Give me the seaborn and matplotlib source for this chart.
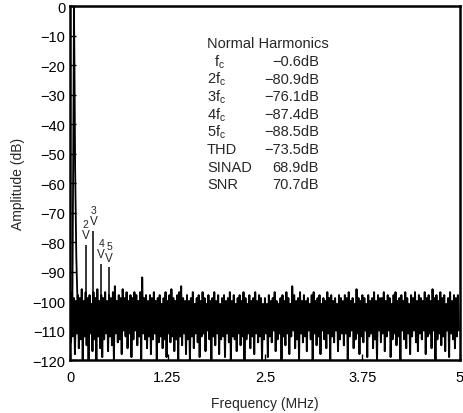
import matplotlib
matplotlib.use('Agg')
import matplotlib.pyplot as plt
import numpy as np
import seaborn as sns

# FFT spectrum of the converter output, 0-5 MHz
bin_step = 0.025  # MHz per noise bin

# upper edge of the noise floor, one value per bin (rows of 0.5 MHz)
noise_hi = [
    -98, -97, -99, -100, -98, -99, -96, -100, -97, -99, -98, -101, -97, -99, -96, -100, -98, -99, -97, -100,
    -98, -99, -97, -95, -100, -98, -99, -96, -99, -97, -100, -98, -99, -97, -98, -100, -97, -92, -99, -98,
    -100, -98, -99, -97, -100, -99, -98, -101, -99, -97, -100, -98, -96, -99, -100, -98, -97, -95, -99, -100,
    -98, -100, -99, -97, -101, -99, -98, -100, -97, -99, -101, -98, -100, -99, -97, -100, -98, -101, -99, -98,
    -100, -99, -97, -100, -98, -101, -99, -98, -100, -97, -99, -101, -98, -100, -99, -97, -100, -98, -99, -101,
    -99, -101, -98, -100, -99, -97, -100, -101, -99, -98, -100, -97, -99, -101, -95, -98, -100, -99, -97, -100,
    -98, -100, -99, -101, -98, -97, -100, -99, -98, -101, -99, -100, -97, -99, -98, -100, -99, -101, -98, -99,
    -100, -98, -99, -97, -100, -99, -101, -96, -99, -100, -98, -99, -101, -98, -100, -99, -97, -100, -98, -99,
    -99, -97, -100, -98, -99, -101, -98, -97, -100, -99, -98, -100, -97, -99, -101, -98, -99, -97, -100, -98,
    -99, -100, -97, -99, -98, -100, -96, -99, -98, -100, -97, -99, -98, -101, -99, -97, -100, -98, -99, -98,
]

# lower edge of the noise floor
noise_lo = [
    -114, -112, -118, -111, -116, -113, -120, -112, -115, -120, -111, -117, -113, -120, -112, -116, -119, -113, -111, -117,
    -112, -115, -120, -111, -114, -113, -118, -110, -112, -116, -111, -119, -113, -110, -115, -112, -120, -111, -113, -116,
    -112, -118, -113, -111, -120, -114, -112, -116, -113, -119, -111, -114, -112, -117, -113, -120, -112, -115, -111, -118,
    -113, -120, -112, -116, -111, -114, -119, -112, -111, -117, -110, -113, -120, -112, -115, -111, -118, -113, -112, -119,
    -111, -114, -120, -112, -113, -117, -111, -115, -112, -120, -113, -111, -116, -112, -118, -111, -114, -112, -120, -113,
    -111, -119, -112, -114, -110, -117, -113, -111, -120, -112, -115, -111, -118, -112, -110, -116, -113, -120, -111, -114,
    -112, -117, -110, -113, -120, -111, -115, -112, -118, -110, -113, -116, -111, -120, -112, -114, -110, -117, -113, -111,
    -115, -111, -120, -112, -110, -116, -113, -111, -118, -112, -114, -110, -119, -112, -111, -116, -113, -120, -110, -114,
    -111, -117, -112, -110, -119, -113, -111, -115, -112, -120, -110, -113, -116, -111, -118, -112, -110, -114, -117, -111,
    -113, -110, -118, -112, -111, -116, -110, -120, -113, -111, -115, -112, -117, -110, -119, -111, -113, -116, -112, -110,
]

# fundamental and its skirt
fund_freq = [0.03, 0.045, 0.05, 0.055, 0.065, 0.08, 0.095]
fund_amp = [-100, -30, -0.6, -15, -55, -85, -100]

# harmonics 2..5
harm_num = ['2', '3', '4', '5']
harm_freq = [0.2, 0.3, 0.4, 0.5]
harm_amp = [-80.9, -76.1, -87.4, -88.5]

table_names = ['f$\\mathregular{_c}$', '2f$\\mathregular{_c}$', '3f$\\mathregular{_c}$',
               '4f$\\mathregular{_c}$', '5f$\\mathregular{_c}$', 'THD', 'SINAD', 'SNR']
table_values = ['\u22120.6dB', '\u221280.9dB', '\u221276.1dB', '\u221287.4dB',
                '\u221288.5dB', '\u221273.5dB', '68.9dB', '70.7dB']

sns.set_style('ticks')
plt.rcParams['font.family'] = ['Liberation Sans', 'DejaVu Sans']
plt.rcParams['mathtext.fontset'] = 'custom'
plt.rcParams['mathtext.rm'] = 'Liberation Sans'

fig = plt.figure(figsize=(4.64, 4.14), dpi=100)
ax = fig.add_axes([0.151, 0.128, 0.840, 0.855])

# noise floor drawn as a zigzag between the upper and lower edge of each bin
n = len(noise_hi)
f = np.arange(n) * bin_step
xs = np.empty(2 * n)
ys = np.empty(2 * n)
xs[0::2] = f
xs[1::2] = f + bin_step / 2
ys[0::2] = noise_hi
ys[1::2] = noise_lo
sns.lineplot(x=xs, y=ys, ax=ax, color='black', lw=1.4, estimator=None, sort=False)

sns.lineplot(x=fund_freq, y=fund_amp, ax=ax, color='black', lw=1.3, estimator=None, sort=False)
ax.vlines(harm_freq, -110, harm_amp, color='black', lw=1.1)

for num, hf, ha in zip(harm_num, harm_freq, harm_amp):
    ax.text(hf, ha + 3.2, 'V', ha='center', va='center', fontsize=8.5)
    ax.text(hf, ha + 7.0, num, ha='center', va='center', fontsize=7.5)

ax.set_xlim(0, 5)
ax.set_ylim(-120, 0)
ax.set_xticks([0, 1.25, 2.5, 3.75, 5])
ax.set_xticklabels(['0', '1.25', '2.5', '3.75', '5'])
ax.set_yticks(np.arange(-120, 1, 10))
ax.tick_params(direction='in', length=4, width=1, labelsize=10.5, colors='black')
ax.tick_params(axis='x', pad=7)
for s in ax.spines.values():
    s.set_linewidth(1.8)
    s.set_color('black')
ax.set_xlabel('Frequency (MHz)', fontsize=10, labelpad=9)
ax.set_ylabel('Amplitude (dB)', fontsize=10, labelpad=5)

# table of harmonics
fig.text(207 / 464, 1 - 44 / 414, 'Normal Harmonics', fontsize=10.5, va='center', ha='left')
for i, (name, val) in enumerate(zip(table_names, table_values)):
    y = 1 - (62 + i * 17.6) / 414
    x = 214 / 464 if i == 0 else 207 / 464
    fig.text(x, y, name, fontsize=10.5, va='center', ha='left')
    fig.text(319 / 464, y, val, fontsize=10.5, va='center', ha='right')

fig.savefig('out.png', dpi=100)
